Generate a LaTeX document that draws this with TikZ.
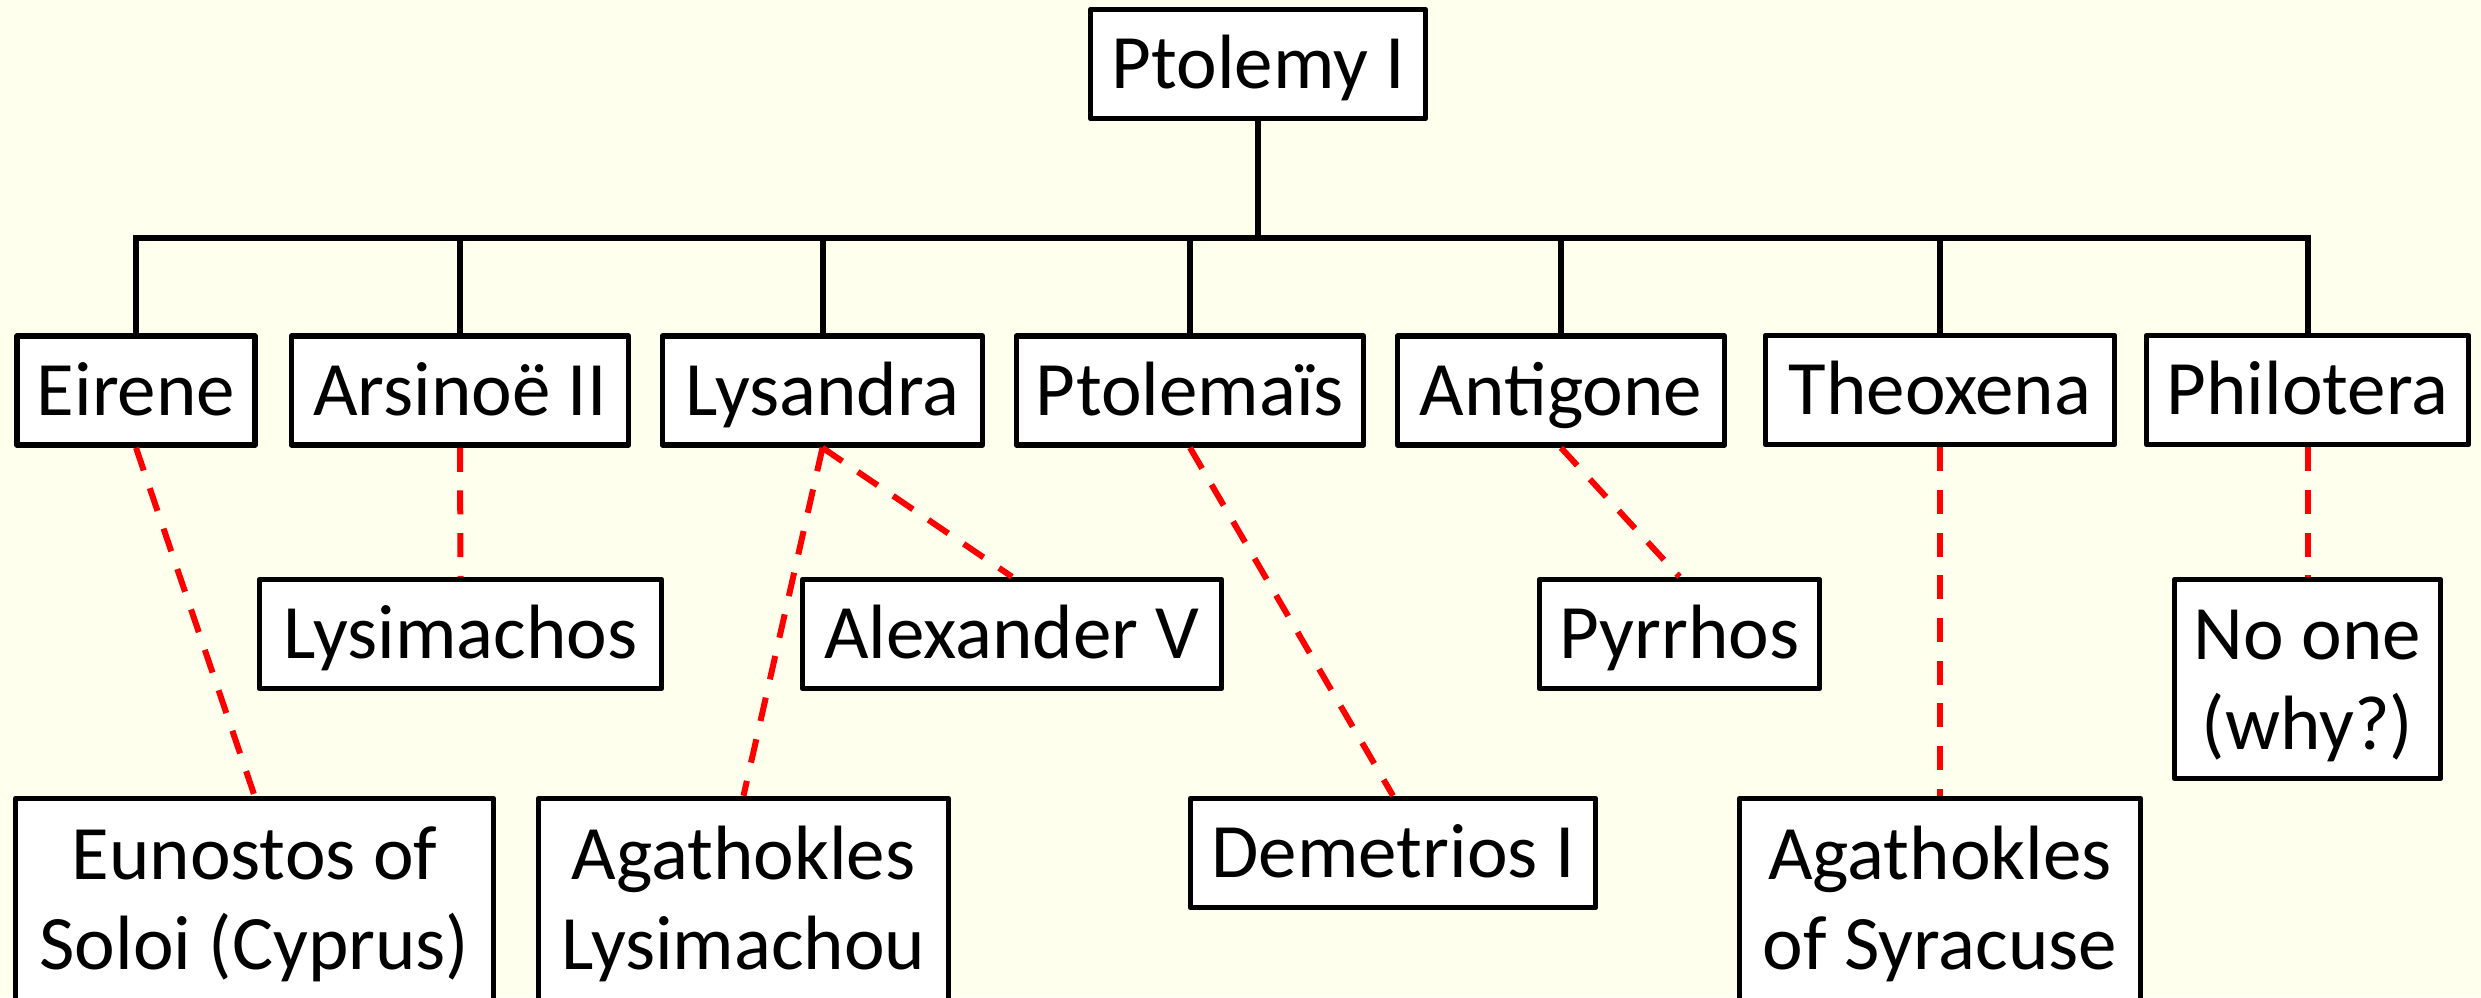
\documentclass[tikz,border=0pt]{standalone}
\usepackage{fontspec}
\setmainfont{Carlito}
\definecolor{bg}{RGB}{255,255,238}
\begin{document}
\begin{tikzpicture}[x=1pt,y=-1pt,
  box/.style={draw=black, line width=5.5pt, line join=round, fill=white, inner sep=0pt,
    minimum height=109pt, font=\fontsize{77}{90}\selectfont,
    text height=49pt, text depth=0pt},
  tall/.style={box, minimum height=202pt, text height=139pt},
  tree/.style={draw=black, line width=6pt},
  bar/.style={draw=black, line width=6.5pt},
  rel/.style={draw=red, line width=6pt, dash pattern=on 24pt off 18.7pt}]
\path[use as bounding box, fill=bg] (0,0) rectangle (2481,997);
\clip (0,0) rectangle (2481,997);

% root
\node[box, minimum width=335pt] (ptol) at (1258,64) {Ptolemy I};

% daughters
\node[box, minimum width=238pt] (eirene)    at (136,390.5)    {Eirene};
\node[box, minimum width=337pt] (arsinoe)   at (460,390.5)    {Arsinoë II};
\node[box, minimum width=320pt] (lysandra)  at (822.5,390.5)  {Lysandra};
\node[box, minimum width=347pt] (ptolemais) at (1190,390.5)   {Ptolemaïs};
\node[box, minimum width=327pt] (antigone)  at (1561,390.5)   {Antigone};
\node[box, minimum width=349pt] (theoxena)  at (1940,390)   {Theoxena};
\node[box, minimum width=322pt] (philotera) at (2307.5,390) {Philotera};

% spouses row 2
\node[box, minimum width=402pt] (lysimachos) at (460.5,634)  {Lysimachos};
\node[box, minimum width=419pt] (alexander)  at (1012,634)   {Alexander V};
\node[box, minimum width=280pt] (pyrrhos)    at (1679.5,634) {Pyrrhos};
\node[box, minimum width=266pt, minimum height=199pt, text height=140pt] (noone) at (2307.5,679)
  {\begin{tabular}[b]{@{}c@{}}No one\\(why?)\end{tabular}};

% spouses row 3
\node[tall, minimum width=478pt] (eunostos) at (254.5,899.5)
  {\begin{tabular}[b]{@{}c@{}}Eunostos of\\Soloi (Cyprus)\end{tabular}};
\node[tall, minimum width=410pt] (agathL) at (743.5,899.5)
  {\begin{tabular}[b]{@{}c@{}}Agathokles\\Lysimachou\end{tabular}};
\node[box, minimum width=405pt] (demetrios) at (1393,853) {Demetrios I};
\node[tall, minimum width=401pt] (agathS) at (1940,899.5)
  {\begin{tabular}[b]{@{}c@{}}Agathokles\\of Syracuse\end{tabular}};

% tree connectors
\coordinate (barY) at (0,238);
\draw[tree] (ptol.south) -- (ptol.south |- barY);
\foreach \n in {eirene,arsinoe,lysandra,ptolemais,antigone,theoxena,philotera}
  \draw[tree] (\n.north) -- (\n.north |- barY);
\draw[bar] ([xshift=-3pt]eirene.north |- barY) -- ([xshift=3pt]philotera.north |- barY);

% marriages
\draw[rel] (eirene.south)    -- (eunostos.north);
\draw[rel] (arsinoe.south)   -- (lysimachos.north);
\draw[rel] (lysandra.south)  -- (agathL.north);
\draw[rel] (lysandra.south)  -- (alexander.north);
\draw[rel] (ptolemais.south) -- (demetrios.north);
\draw[rel] (antigone.south)  -- (pyrrhos.north);
\draw[rel] (theoxena.south)  -- (agathS.north);
\draw[rel] (philotera.south) -- (noone.north);
\end{tikzpicture}
\end{document}
